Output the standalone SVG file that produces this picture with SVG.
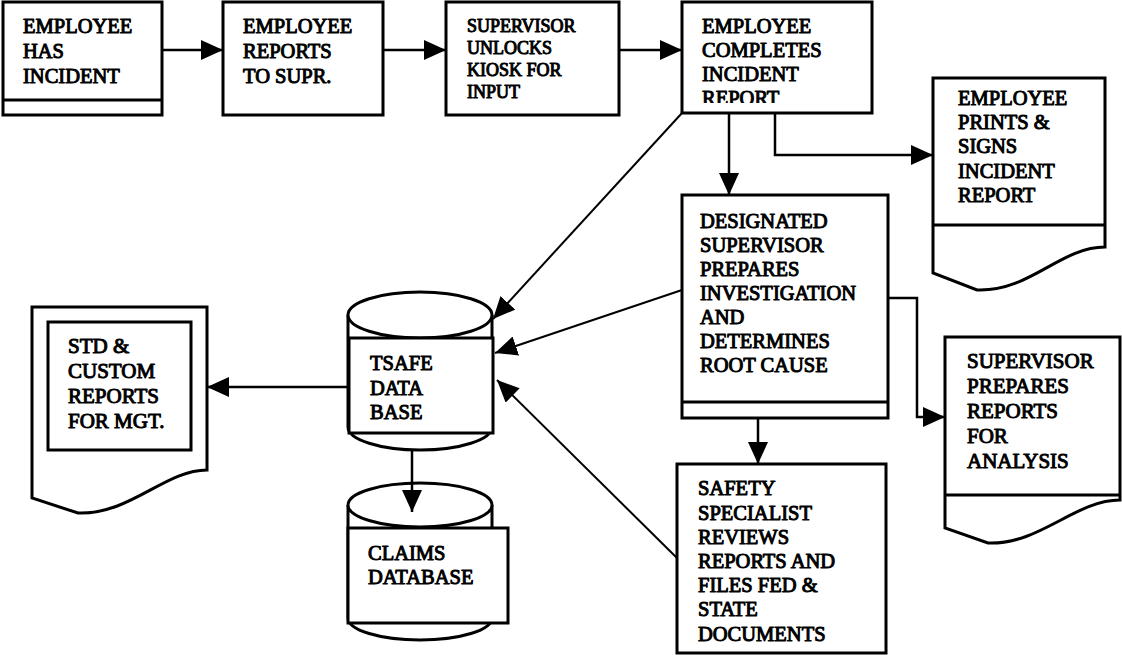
<svg xmlns="http://www.w3.org/2000/svg" width="1122" height="655" viewBox="0 0 1122 655">
  <defs>
    <marker id="arrow" markerUnits="userSpaceOnUse" markerWidth="22" markerHeight="20" refX="22" refY="10" orient="auto">
      <path d="M0,0 L22,10 L0,20 Z" fill="#000"/>
    </marker>
    <clipPath id="clipCompletes">
      <rect x="682" y="2" width="190" height="101"/>
    </clipPath>
  </defs>
  <style>
    .box { fill: #fff; stroke: #000; stroke-width: 3; }
    .sep { fill: none; stroke: #000; stroke-width: 3; }
    /* heavy serif labels: regular face thickened with a thin outline */
    .t { font-family: 'Liberation Serif', 'Times New Roman', serif; font-weight: normal; font-size: 20.5px; fill: #000; stroke: #000; stroke-width: 1; stroke-linejoin: round; }
    .sm { font-size: 18px; }
    .lg { font-size: 21px; }
    .conn { fill: none; stroke: #000; stroke-width: 2.5; }
    .diag { fill: none; stroke: #000; stroke-width: 2; }
  </style>

  <rect width="1122" height="655" fill="#fff"/>

  <!-- process: employee has incident -->
  <g id="n-has-incident">
    <rect class="box" x="3" y="2" width="159" height="113"/>
    <line class="sep" x1="3" y1="100" x2="162" y2="100"/>
    <text class="t"><tspan x="23" y="33">EMPLOYEE</tspan><tspan x="23" y="58">HAS</tspan><tspan x="23" y="83">INCIDENT</tspan></text>
  </g>

  <g id="n-reports">
    <rect class="box" x="223" y="2" width="160" height="113"/>
    <text class="t"><tspan x="243" y="33">EMPLOYEE</tspan><tspan x="243" y="58">REPORTS</tspan><tspan x="243" y="83">TO SUPR.</tspan></text>
  </g>

  <g id="n-unlocks">
    <rect class="box" x="446" y="2" width="173" height="113"/>
    <text class="t sm"><tspan x="467" y="32">SUPERVISOR</tspan><tspan x="467" y="54">UNLOCKS</tspan><tspan x="467" y="76">KIOSK FOR</tspan><tspan x="467" y="98">INPUT</tspan></text>
  </g>

  <g id="n-completes">
    <rect class="box" x="682" y="2" width="190" height="111"/>
    <text class="t" clip-path="url(#clipCompletes)"><tspan x="702" y="33">EMPLOYEE</tspan><tspan x="702" y="57">COMPLETES</tspan><tspan x="702" y="81">INCIDENT</tspan><tspan x="702" y="105">REPORT</tspan></text>
  </g>

  <!-- document: prints & signs -->
  <g id="n-prints">
    <path class="box" d="M933,78 H1105 V247 C1060,247 1030,292 977,290 L933,273 Z"/>
    <line class="sep" x1="933" y1="225" x2="1105" y2="225"/>
    <text class="t"><tspan x="958" y="105">EMPLOYEE</tspan><tspan x="958" y="129">PRINTS &amp;</tspan><tspan x="958" y="153">SIGNS</tspan><tspan x="958" y="178">INCIDENT</tspan><tspan x="958" y="202">REPORT</tspan></text>
  </g>

  <g id="n-designated">
    <rect class="box" x="682" y="195" width="206" height="223"/>
    <line class="sep" x1="682" y1="402" x2="888" y2="402"/>
    <text class="t"><tspan x="700" y="228">DESIGNATED</tspan><tspan x="700" y="252">SUPERVISOR</tspan><tspan x="700" y="276">PREPARES</tspan><tspan x="700" y="300">INVESTIGATION</tspan><tspan x="700" y="324">AND</tspan><tspan x="700" y="348">DETERMINES</tspan><tspan x="700" y="372">ROOT CAUSE</tspan></text>
  </g>

  <!-- document: supervisor reports -->
  <g id="n-analysis">
    <path class="box" d="M945,337 H1120 V500 C1075,500 1040,545 988,543 L945,528 Z"/>
    <line class="sep" x1="945" y1="495" x2="1120" y2="495"/>
    <text class="t lg"><tspan x="967" y="368">SUPERVISOR</tspan><tspan x="967" y="393">PREPARES</tspan><tspan x="967" y="418">REPORTS</tspan><tspan x="967" y="443">FOR</tspan><tspan x="967" y="468">ANALYSIS</tspan></text>
  </g>

  <g id="n-safety">
    <rect class="box" x="677" y="464" width="209" height="189"/>
    <text class="t"><tspan x="698" y="495">SAFETY</tspan><tspan x="698" y="520">SPECIALIST</tspan><tspan x="698" y="544">REVIEWS</tspan><tspan x="698" y="568">REPORTS AND</tspan><tspan x="698" y="592">FILES FED &amp;</tspan><tspan x="698" y="616">STATE</tspan><tspan x="698" y="641">DOCUMENTS</tspan></text>
  </g>

  <!-- storage: tsafe database -->
  <g id="n-tsafe">
    <path class="box" d="M348,315 V427 A72,23 0 0 0 492,427 V315"/>
    <ellipse class="box" cx="420" cy="315" rx="72" ry="23"/>
    <rect class="box" x="349" y="338" width="144" height="95"/>
    <text class="t"><tspan x="370" y="370">TSAFE</tspan><tspan x="370" y="395">DATA</tspan><tspan x="370" y="419">BASE</tspan></text>
  </g>

  <!-- storage: claims database -->
  <g id="n-claims">
    <path class="box" d="M348,505 V618 A72,22 0 0 0 492,618 V505"/>
    <ellipse class="box" cx="420" cy="505" rx="72" ry="22"/>
    <rect class="box" x="348" y="528" width="160" height="95"/>
    <text class="t"><tspan x="368" y="560">CLAIMS</tspan><tspan x="368" y="584">DATABASE</tspan></text>
  </g>

  <!-- document: management reports -->
  <g id="n-mgt-reports">
    <path class="box" d="M32,307 H207 V470 C165,470 130,515 78,513 L32,498 Z"/>
    <rect class="box" x="48" y="322" width="143" height="128"/>
    <text class="t lg"><tspan x="68" y="353">STD &amp;</tspan><tspan x="68" y="378">CUSTOM</tspan><tspan x="68" y="403">REPORTS</tspan><tspan x="68" y="428">FOR MGT.</tspan></text>
  </g>

  <!-- connectors, drawn over the shapes so arrowheads stay visible -->
  <g id="connectors">
    <line class="conn" x1="162" y1="50" x2="223" y2="50" marker-end="url(#arrow)"/>
    <line class="conn" x1="383" y1="50" x2="446" y2="50" marker-end="url(#arrow)"/>
    <line class="conn" x1="619" y1="50" x2="682" y2="50" marker-end="url(#arrow)"/>
    <line class="conn" x1="729" y1="113" x2="729" y2="195" marker-end="url(#arrow)"/>
    <polyline class="conn" points="775,113 775,155 933,155" marker-end="url(#arrow)"/>
    <line class="diag" x1="682" y1="113" x2="493" y2="319" marker-end="url(#arrow)"/>
    <line class="diag" x1="682" y1="290" x2="495" y2="353" marker-end="url(#arrow)"/>
    <line class="diag" x1="677" y1="558" x2="497" y2="380" marker-end="url(#arrow)"/>
    <polyline class="conn" points="888,298 917,298 917,417 945,417" marker-end="url(#arrow)"/>
    <line class="conn" x1="758" y1="418" x2="758" y2="464" marker-end="url(#arrow)"/>
    <line class="conn" x1="348" y1="387" x2="207" y2="387" marker-end="url(#arrow)"/>
    <line class="conn" x1="412" y1="450" x2="412" y2="512" marker-end="url(#arrow)"/>
  </g>
</svg>
